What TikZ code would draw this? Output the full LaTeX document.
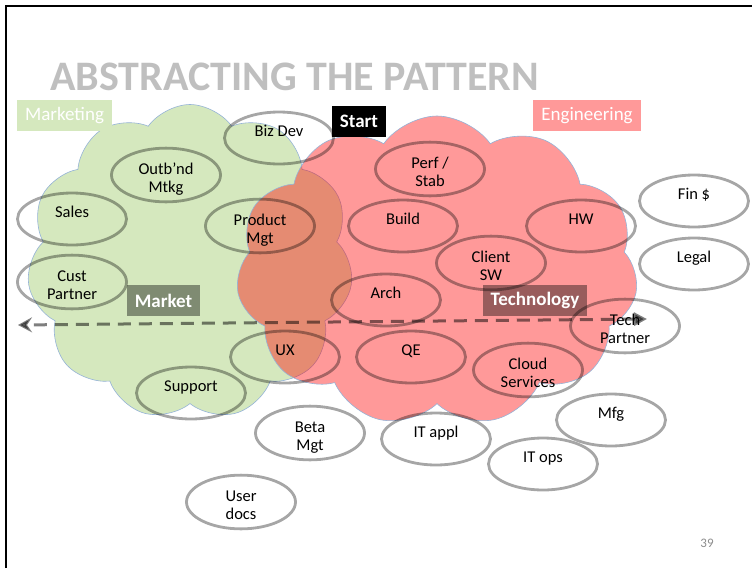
\documentclass[tikz,border=0pt]{standalone}
\usepackage{fontspec}
\setmainfont{Carlito}
\usetikzlibrary{shapes.symbols,shapes.geometric,arrows.meta}
\definecolor{leaf}{RGB}{213,232,190}
\definecolor{rose}{RGB}{255,153,153}
\definecolor{rim}{RGB}{149,179,215}
\definecolor{ash}{RGB}{191,191,191}

\begin{document}
\begin{tikzpicture}[x=1pt,y=-1pt]
	\tikzstyle{every node}=[font=\fontsize{16.5}{18}\selectfont]
	\tikzstyle{blob}=[cloud,cloud puffs=11,cloud puff arc=110,cloud ignores aspect,draw=rim,line width=0.6pt,inner sep=0pt]
	\tikzstyle{team}=[ellipse,draw=black,draw opacity=0.35,line width=2.8pt,
		minimum width=109pt,minimum height=52pt,inner sep=0pt,align=center,text height=36pt,text depth=2pt]
	\tikzstyle{lift}=[text height=12pt,text depth=14.4pt]
	\tikzstyle{tag}=[text=white,minimum height=31pt,inner sep=0pt,font=\fontsize{19}{20}\selectfont]
	\useasboundingbox (0,0) rectangle (752,568);
	\draw[line width=2.3pt] (6.2,568) -- (6.2,6.2) -- (752,6.2);
	\node[anchor=base west,inner sep=0pt,text=ash,font=\fontsize{42}{42}\selectfont\bfseries] (title) at (50,90) {ABSTRACTING THE PATTERN};
	\node[blob,fill=leaf,minimum width=326pt,minimum height=315pt] (market) at (190,262) {};
	\node[blob,fill=red,fill opacity=0.4,minimum width=402pt,minimum height=310pt] (tech) at (437,271) {};
	\node[team,lift] (bizdev) at (279,138) {Biz Dev};
	\node[team] (outbnd) at (166,175) {Outb’nd\\Mtkg};
	\node[team,lift] (sales) at (72,219) {Sales};
	\node[team] (prodmgt) at (260,226) {Product\\Mgt};
	\node[team] (cust) at (72,282) {Cust\\Partner};
	\node[team,lift] (ux) at (285,357) {UX};
	\node[team,lift] (support) at (191,393) {Support};
	\node[team] (perf) at (430,169) {Perf /\\Stab};
	\node[team,lift] (build) at (403,226) {Build};
	\node[team,lift] (hw) at (581,226) {HW};
	\node[team] (client) at (491,263) {Client\\SW};
	\node[team,lift] (fin) at (694,201) {Fin \$};
	\node[team,lift] (legal) at (694,264) {Legal};
	\node[team,lift] (arch) at (386,300) {Arch};
	\node[team] (techp) at (625,326) {Tech\\Partner};
	\node[team,lift] (qe) at (411,357) {QE};
	\node[team] (cloudsvc) at (528,370) {Cloud\\Services};
	\node[team,lift] (mfg) at (611,420) {Mfg};
	\node[team,lift] (itappl) at (436,439) {IT appl};
	\node[team,lift] (itops) at (543,464) {IT ops};
	\node[team] (beta) at (310,433) {Beta\\Mgt};
	\node[team] (docs) at (241,502) {User\\docs};
	\node[tag,fill=leaf,minimum width=95pt] (mkthead) at (64.5,115.5) {Marketing};
	\node[tag,fill=rose,minimum width=108pt] (enghead) at (587,115.5) {Engineering};
	\node[tag,fill=black,minimum width=54pt,font=\fontsize{19}{20}\selectfont\bfseries] (start) at (359,121.5) {Start};
	\node[tag,fill=black,fill opacity=0.4,text opacity=1,minimum width=73pt,font=\fontsize{19}{20}\selectfont\bfseries] (mkttag) at (163.5,300.5) {Market};
	\node[tag,fill=black,fill opacity=0.4,text opacity=1,minimum width=104pt,font=\fontsize{19}{20}\selectfont\bfseries] (techtag) at (535,300.5) {Technology};
	\coordinate (east) at (647,319);
	\coordinate (west) at (18,325);
	\draw[black,opacity=0.5,line width=3pt,dash pattern=on 13pt off 8pt,
		{Triangle[length=13pt,width=13pt]}-{Stealth[length=14pt,width=15pt,inset=5pt]}] (east) -- (west);
	\node[text=black!45,font=\fontsize{13}{14}\selectfont] (page) at (707,543) {39};
\end{tikzpicture}
\end{document}
